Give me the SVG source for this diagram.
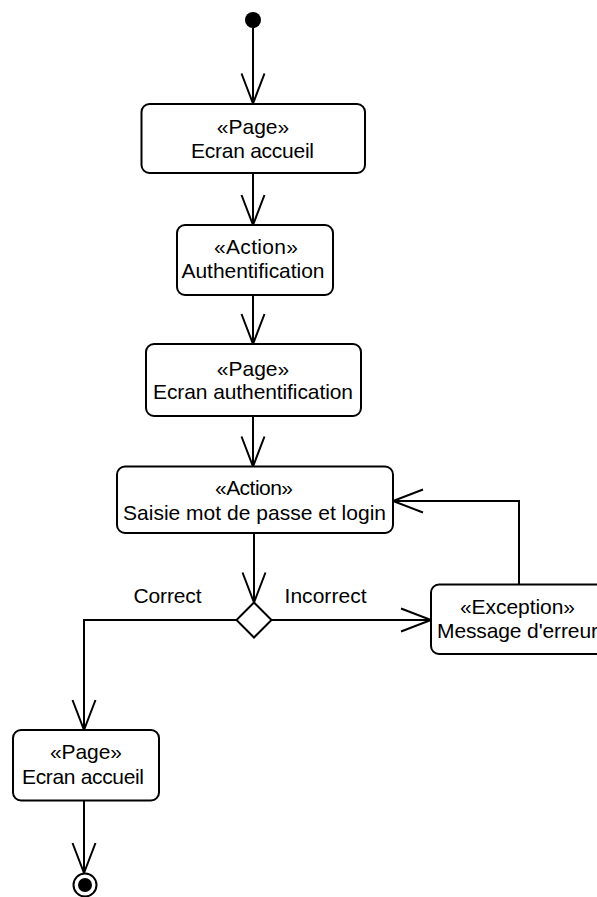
<svg xmlns="http://www.w3.org/2000/svg" width="597" height="897" viewBox="0 0 597 897">
  <style>
    .box { fill: #ffffff; stroke: #000000; stroke-width: 2; }
    .lbl { font-family: "Liberation Sans", Arial, sans-serif; font-size: 21px; fill: #000000; text-anchor: middle; }
    .edge { fill: none; stroke: #000000; stroke-width: 2; marker-end: url(#open); }
  </style>
  <defs>
    <marker id="open" markerUnits="userSpaceOnUse" viewBox="-32 -14 34 28" markerWidth="34" markerHeight="28" refX="0" refY="0" orient="auto" overflow="visible">
      <path d="M -30 -11.5 L 0 0 L -30 11.5" fill="none" stroke="#000000" stroke-width="2"/>
    </marker>
  </defs>
  <rect width="597" height="897" fill="#ffffff"/>

  <!-- connectors -->
  <g id="connectors">
    <path class="edge" d="M 253 28 L 253 103.5"/>
    <path class="edge" d="M 253 173 L 253 225"/>
    <path class="edge" d="M 253 295 L 253 344"/>
    <path class="edge" d="M 253 416 L 253 466.5"/>
    <path class="edge" d="M 254 533 L 254 602.5"/>
    <path class="edge" d="M 236.5 620 L 84 620 L 84 730"/>
    <path class="edge" d="M 271.5 620 L 431 620"/>
    <path class="edge" d="M 519 584.5 L 519 501 L 393 501"/>
    <path class="edge" d="M 84 800.5 L 84 873"/>
    <text class="lbl" x="167.5" y="603" textLength="68">Correct</text>
    <text class="lbl" x="325.5" y="603" textLength="82">Incorrect</text>
  </g>

  <!-- start -->
  <g id="start">
    <circle cx="253" cy="20" r="8" fill="#000000"/>
  </g>

  <g id="ecran-accueil">
    <rect class="box" x="141.5" y="104" width="223.5" height="69" rx="8"/>
    <text class="lbl" x="253" y="134">«Page»</text>
    <text class="lbl" x="252.5" y="158" textLength="123">Ecran accueil</text>
  </g>

  <g id="authentification">
    <rect class="box" x="177" y="225" width="156" height="70" rx="8"/>
    <text class="lbl" x="256" y="254" textLength="84">«Action»</text>
    <text class="lbl" x="253" y="278" textLength="143">Authentification</text>
  </g>

  <g id="ecran-authentification">
    <rect class="box" x="146" y="344" width="215" height="72" rx="8"/>
    <text class="lbl" x="253" y="376">«Page»</text>
    <text class="lbl" x="253" y="399" textLength="200">Ecran authentification</text>
  </g>

  <g id="saisie">
    <rect class="box" x="117" y="466.5" width="276" height="66.5" rx="8"/>
    <text class="lbl" x="254" y="495" textLength="78">«Action»</text>
    <text class="lbl" x="254.5" y="520" textLength="263">Saisie mot de passe et login</text>
  </g>

  <g id="decision">
    <path d="M 254 602.5 L 271.5 620 L 254 637.5 L 236.5 620 Z" fill="#ffffff" stroke="#000000" stroke-width="2"/>
  </g>

  <g id="message-erreur">
    <rect class="box" x="431" y="584.5" width="173" height="69.5" rx="8"/>
    <text class="lbl" x="517.5" y="614" textLength="115">«Exception»</text>
    <text class="lbl" x="517.5" y="638" textLength="161">Message d'erreur</text>
  </g>

  <g id="ecran-accueil-2">
    <rect class="box" x="13" y="730" width="146" height="70.5" rx="8"/>
    <text class="lbl" x="86" y="759" textLength="72">«Page»</text>
    <text class="lbl" x="83" y="784" textLength="122">Ecran accueil</text>
  </g>

  <!-- end -->
  <g id="end">
    <circle cx="85" cy="885" r="11.5" fill="#ffffff" stroke="#000000" stroke-width="2"/>
    <circle cx="85" cy="885" r="7" fill="#000000"/>
  </g>
</svg>
